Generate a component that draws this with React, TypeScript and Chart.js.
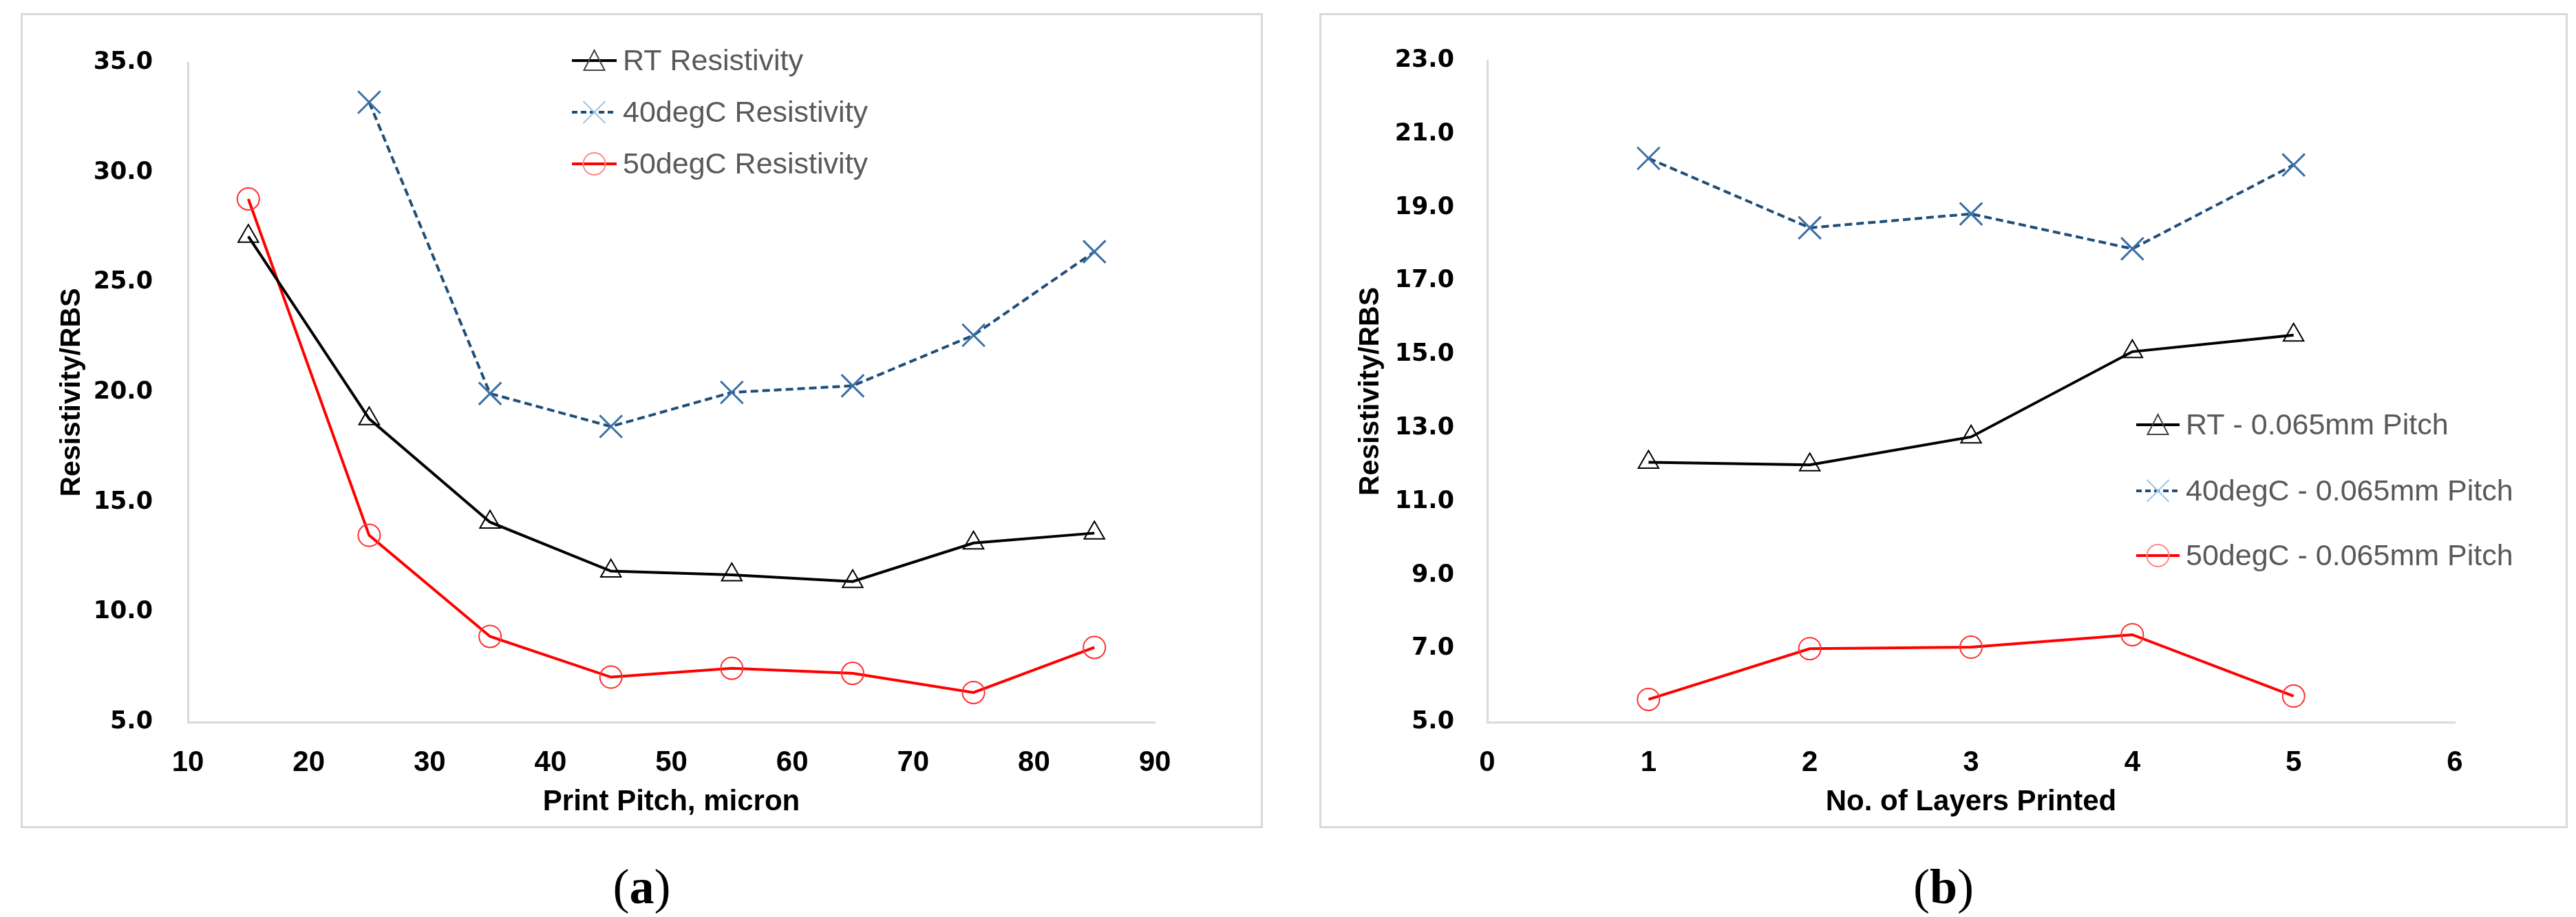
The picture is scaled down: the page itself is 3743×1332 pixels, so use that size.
import React, { useEffect, useRef } from "react";
import { Chart, registerables } from "chart.js";

Chart.register(...registerables);

// ---------- data ----------
const pitchX = [15, 25, 35, 45, 55, 65, 75, 85];
const rtPitch = [27.1, 18.8, 14.1, 11.87, 11.7, 11.4, 13.15, 13.6];
const deg40PitchX = [25, 35, 45, 55, 65, 75, 85];
const deg40Pitch = [33.2, 19.95, 18.45, 20.0, 20.3, 22.6, 26.4];
const deg50Pitch = [28.8, 13.5, 8.9, 7.05, 7.45, 7.22, 6.35, 8.4];

const layersX = [1, 2, 3, 4, 5];
const rtLayers = [12.07, 12.0, 12.76, 15.08, 15.53];
const deg40Layers = [20.34, 18.45, 18.83, 17.88, 20.16];
const deg50Layers = [5.62, 7.0, 7.04, 7.38, 5.71];

const pitchLabels = ["RT Resistivity", "40degC Resistivity", "50degC Resistivity"];
const layerLabels = ["RT - 0.065mm Pitch", "40degC - 0.065mm Pitch", "50degC - 0.065mm Pitch"];

const pitchXTicks = { min: 10, max: 90, step: 10 };
const pitchYTicks = { min: 5, max: 35, step: 5 };
const layerXTicks = { min: 0, max: 6, step: 1 };
const layerYTicks = { min: 5, max: 23, step: 2 };

const xTitlePitch = "Print Pitch, micron";
const xTitleLayers = "No. of Layers Printed";
const yTitle = "Resistivity/RBS";

// ---------- styles ----------
const STYLES = [
  {
    line: "#000000", width: 4, dash: [] as number[], point: "triangle", radius: 17,
    pointColor: "#000000", pointWidth: 2, legendPoint: "#444444",
  },
  {
    line: "#1f4e79", width: 4, dash: [11, 6], point: "crossRot", radius: 23,
    pointColor: "#3a6fa5", pointWidth: 3, legendPoint: "#9dc3e6",
  },
  {
    line: "#ff0000", width: 4, dash: [] as number[], point: "circle", radius: 16,
    pointColor: "#ff3030", pointWidth: 2, legendPoint: "#ff8a8a",
  },
];

const toPts = (xs: number[], ys: number[]) => xs.map((x, i) => ({ x, y: ys[i] }));

function makeDataset(label: string, pts: { x: number; y: number }[], i: number) {
  const s = STYLES[i];
  return {
    label,
    data: pts,
    borderColor: s.line,
    borderWidth: s.width,
    borderDash: s.dash,
    pointStyle: s.point,
    pointRadius: s.radius,
    pointHoverRadius: s.radius,
    pointBorderColor: s.pointColor,
    pointBackgroundColor: "rgba(255,255,255,0)",
    pointBorderWidth: s.pointWidth,
    fill: false,
    tension: 0,
  };
}

function legendPlugin(cfg: { x: number; rows: number[]; len: number; textX: number }) {
  return {
    id: "customLegend",
    afterDraw(chart: any) {
      const ctx = chart.ctx as CanvasRenderingContext2D;
      ctx.save();
      chart.data.datasets.forEach((ds: any, i: number) => {
        const s = STYLES[i];
        const y = cfg.rows[i];
        ctx.beginPath();
        ctx.setLineDash(i === 1 ? [8, 5] : []);
        ctx.strokeStyle = s.line;
        ctx.lineWidth = 4;
        ctx.moveTo(cfg.x, y);
        ctx.lineTo(cfg.x + cfg.len, y);
        ctx.stroke();
        ctx.setLineDash([]);
        const cx = cfg.x + cfg.len / 2;
        ctx.strokeStyle = s.legendPoint;
        ctx.lineWidth = 2;
        ctx.beginPath();
        if (s.point === "triangle") {
          ctx.moveTo(cx, y - 15);
          ctx.lineTo(cx + 15, y + 14);
          ctx.lineTo(cx - 15, y + 14);
          ctx.closePath();
        } else if (s.point === "crossRot") {
          ctx.moveTo(cx - 16, y - 16);
          ctx.lineTo(cx + 16, y + 16);
          ctx.moveTo(cx + 16, y - 16);
          ctx.lineTo(cx - 16, y + 16);
        } else {
          ctx.arc(cx, y, 16, 0, Math.PI * 2);
        }
        ctx.stroke();
        ctx.fillStyle = "#595959";
        ctx.font = "43px 'Liberation Sans', Arial, sans-serif";
        ctx.textAlign = "left";
        ctx.textBaseline = "middle";
        ctx.fillText(ds.label, cfg.textX, y + 2);
      });
      ctx.restore();
    },
  };
}

type PanelProps = {
  left: number;
  top: number;
  width: number;
  height: number;
  datasets: any[];
  xt: { min: number; max: number; step: number };
  yt: { min: number; max: number; step: number };
  xTitle: string;
  yAxisWidth: number;
  padRight: number;
  yTickPad: number;
  legend: { x: number; rows: number[]; len: number; textX: number };
  caption: string;
};

function Panel(p: PanelProps) {
  const ref = useRef<HTMLCanvasElement | null>(null);
  useEffect(() => {
    if (!ref.current) return;
    const chart = new Chart(ref.current, {
      type: "line",
      data: { datasets: p.datasets },
      options: {
        animation: false,
        responsive: false,
        devicePixelRatio: 1,
        layout: { padding: { left: 0, right: p.padRight, top: 30, bottom: 0 } },
        plugins: { legend: { display: false }, tooltip: { enabled: false } },
        scales: {
          x: {
            type: "linear",
            min: p.xt.min,
            max: p.xt.max,
            grid: { display: false, drawTicks: false },
            border: { display: true, color: "#d9d9d9", width: 3 },
            ticks: {
              stepSize: p.xt.step,
              color: "#000000",
              padding: 34,
              font: { family: "'Liberation Sans', Arial, sans-serif", size: 42, weight: "bold" },
            },
            title: {
              display: true,
              text: p.xTitle,
              color: "#000000",
              padding: { top: 0, bottom: 12 },
              font: { family: "'Liberation Sans', Arial, sans-serif", size: 42, weight: "bold" },
            },
            afterFit: (s: any) => {
              s.height = 154;
            },
          },
          y: {
            type: "linear",
            min: p.yt.min,
            max: p.yt.max,
            grid: { display: false, drawTicks: false },
            border: { display: true, color: "#d9d9d9", width: 3 },
            ticks: {
              stepSize: p.yt.step,
              color: "#000000",
              padding: p.yTickPad,
              callback: (v: any) => Number(v).toFixed(1),
              font: { family: "'DejaVu Sans', sans-serif", size: 35, weight: "bold" },
            },
            title: {
              display: true,
              text: yTitle,
              color: "#000000",
              padding: { top: 50, bottom: 0 },
              font: { family: "'Liberation Sans', Arial, sans-serif", size: 41, weight: "bold" },
            },
            afterFit: (s: any) => {
              s.width = p.yAxisWidth;
            },
          },
        },
      } as any,
      plugins: [legendPlugin(p.legend)],
    });
    return () => chart.destroy();
  }, []);

  return (
    <>
      <div
        style={{
          position: "absolute",
          left: p.left,
          top: p.top,
          width: p.width,
          height: p.height,
          background: "#ffffff",
        }}
      >
        <canvas
          ref={ref}
          width={p.width}
          height={p.height}
          style={{ position: "absolute", left: 0, top: 0, width: p.width, height: p.height }}
        />
        <div
          style={{
            position: "absolute",
            left: 0,
            top: 0,
            width: p.width,
            height: p.height,
            boxSizing: "border-box",
            border: "3px solid #d9d9d9",
            pointerEvents: "none",
          }}
        />
      </div>
      <div
        style={{
          position: "absolute",
          left: p.left,
          top: 1240,
          width: p.width,
          textAlign: "center",
          fontFamily: "'Liberation Serif', 'Times New Roman', serif",
          fontSize: 72,
          lineHeight: "96px",
          color: "#000",
        }}
      >
        (<b>{p.caption}</b>)
      </div>
    </>
  );
}

export default function App() {
  const leftSets = [
    makeDataset(pitchLabels[0], toPts(pitchX, rtPitch), 0),
    makeDataset(pitchLabels[1], toPts(deg40PitchX, deg40Pitch), 1),
    makeDataset(pitchLabels[2], toPts(pitchX, deg50Pitch), 2),
  ];
  const rightSets = [
    makeDataset(layerLabels[0], toPts(layersX, rtLayers), 0),
    makeDataset(layerLabels[1], toPts(layersX, deg40Layers), 1),
    makeDataset(layerLabels[2], toPts(layersX, deg50Layers), 2),
  ];
  return (
    <div style={{ position: "absolute", left: 0, top: 0, width: 3743, height: 1332, background: "#fff", overflow: "hidden" }}>
      <Panel
        left={30}
        top={19}
        width={1805}
        height={1184}
        datasets={leftSets}
        xt={pitchXTicks}
        yt={pitchYTicks}
        xTitle={xTitlePitch}
        yAxisWidth={243}
        padRight={157}
        yTickPad={51}
        legend={{ x: 801, rows: [69, 144, 219], len: 65, textX: 875 }}
        caption="a"
      />
      <Panel
        left={1917}
        top={19}
        width={1814}
        height={1184}
        datasets={rightSets}
        xt={layerXTicks}
        yt={layerYTicks}
        xTitle={xTitleLayers}
        yAxisWidth={244}
        padRight={164}
        yTickPad={48}
        legend={{ x: 1187, rows: [598, 694, 788], len: 63, textX: 1259 }}
        caption="b"
      />
    </div>
  );
}
